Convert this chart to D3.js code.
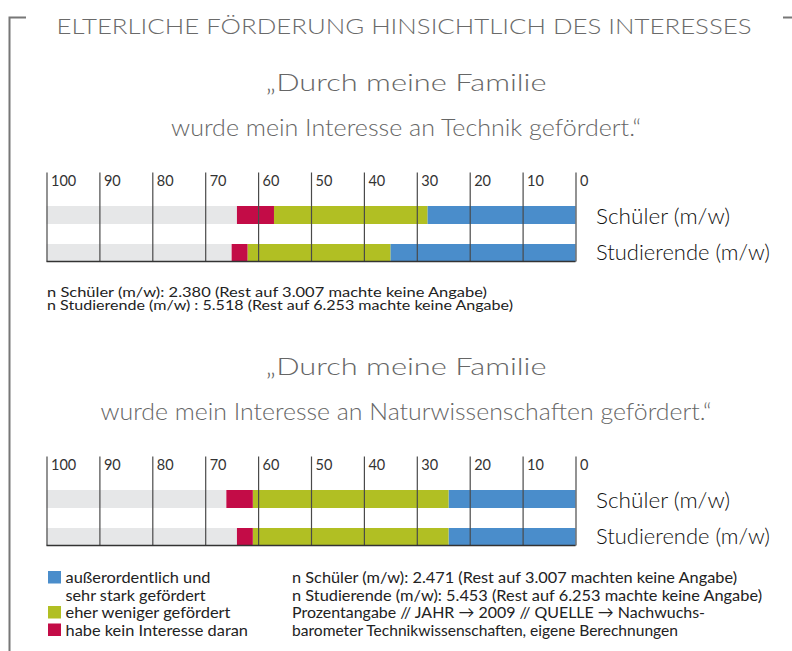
<!DOCTYPE html>
<html>
<head>
<meta charset="utf-8">
<script src="https://cdn.jsdelivr.net/npm/d3@7"></script>
<style>
  body { margin: 0; background: #fff; }
  svg { display: block; }
  text { font-family: Lato, "Open Sans", sans-serif; }
</style>
</head>
<body>
<svg id="chart" width="792" height="651"></svg>
<script>
// categories and values (percent)
const groups = ["Schüler (m/w)", "Studierende (m/w)"];
const segments = ["stark", "weniger", "kein"];
const tickValues = [100, 90, 80, 70, 60, 50, 40, 30, 20, 10, 0];

const technikStark = [28, 35];
const technikWeniger = [29, 27];
const technikKein = [7, 3];

const naturStark = [24, 24];
const naturWeniger = [37, 37];
const naturKein = [5, 3];

const legendLabels = [
  ["außerordentlich und", "sehr stark gefördert"],
  ["eher weniger gefördert"],
  ["habe kein Interesse daran"]
];

const colors = { stark: "#4a8dcb", weniger: "#b1bf23", kein: "#c30c47" };

const svg = d3.select("#chart");
const x = d3.scaleLinear().domain([100, 0]).range([46.5, 575.5]);

// frame corners
svg.append("path").attr("d", "M26,17.5 H9.5 V651").attr("fill", "none").attr("stroke", "#777").attr("stroke-width", 2);
svg.append("path").attr("d", "M783,17.5 H792").attr("fill", "none").attr("stroke", "#777").attr("stroke-width", 2);

svg.append("text")
  .attr("x", 56.5).attr("y", 33.5)
  .attr("textLength", 695).attr("lengthAdjust", "spacingAndGlyphs")
  .attr("font-size", 22).attr("font-weight", 300).attr("fill", "#6a6a6a")
  .text("ELTERLICHE FÖRDERUNG HINSICHTLICH DES INTERESSES");

function drawPanel(top, stark, weniger, kein, subtitle, subWidths) {
  const g = svg.append("g");
  const bottom = top + 89;

  // subtitle lines
  subtitle.forEach((s, i) => {
    g.append("text")
      .attr("x", 406).attr("y", top - 82 + i * 45)
      .attr("text-anchor", "middle")
      .attr("textLength", subWidths[i]).attr("lengthAdjust", "spacingAndGlyphs")
      .attr("font-size", 23).attr("font-weight", 300).attr("fill", "#666")
      .text(s);
  });

  const y = d3.scaleBand().domain(groups).range([top + 33.5, top + 89.5]).paddingInner(20 / 38);

  const rows = groups.map((grp, i) => ({ group: grp, stark: stark[i], weniger: weniger[i], kein: kein[i] }));
  const stacked = d3.stack().keys(segments)(rows);

  // grey remainder up to 100
  g.selectAll(".bg").data(rows).enter().append("rect")
    .attr("x", x(100))
    .attr("y", d => y(d.group))
    .attr("width", d => x(d.stark + d.weniger + d.kein) - x(100))
    .attr("height", y.bandwidth())
    .attr("fill", "#e6e7e8");

  g.selectAll(".serie").data(stacked).enter().append("g")
    .attr("fill", d => colors[d.key])
    .selectAll("rect").data(d => d).enter().append("rect")
    .attr("x", d => x(d[1]))
    .attr("y", d => y(d.data.group))
    .attr("width", d => x(d[0]) - x(d[1]))
    .attr("height", y.bandwidth());

  // grid lines + tick labels
  const axis = g.append("g")
    .attr("transform", `translate(0,${top})`)
    .call(d3.axisBottom(x).tickValues(tickValues).tickSize(bottom - top).tickFormat(d3.format("d")));
  axis.select(".domain").remove();
  axis.selectAll(".tick line").attr("stroke", "#4a4a4a").attr("stroke-width", 1.2);
  axis.selectAll(".tick text")
    .attr("x", 4).attr("y", 13.5).attr("dy", 0)
    .attr("text-anchor", "start")
    .attr("font-size", 14.5).attr("fill", "#333")
    .style("font-family", "Lato, 'Open Sans', sans-serif");

  g.append("line")
    .attr("x1", x(100)).attr("x2", x(0))
    .attr("y1", bottom).attr("y2", bottom)
    .attr("stroke", "#333").attr("stroke-width", 1.5);

  const labelWidths = [134, 174];
  g.selectAll(".rowlabel").data(groups).enter().append("text")
    .attr("x", 596)
    .attr("y", (d, i) => y(d) + y.bandwidth() - 0.5 - i * 1.5)
    .attr("textLength", (d, i) => labelWidths[i]).attr("lengthAdjust", "spacingAndGlyphs")
    .attr("font-size", 22).attr("font-weight", 300).attr("fill", "#111")
    .text(d => d);
}

drawPanel(172.5, technikStark, technikWeniger, technikKein,
  ["„Durch meine Familie", "wurde mein Interesse an Technik gefördert.“"], [281, 470]);
drawPanel(456.5, naturStark, naturWeniger, naturKein,
  ["„Durch meine Familie", "wurde mein Interesse an Naturwissenschaften gefördert.“"], [281, 611]);

// notes under first panel
const notes1 = [
  ["n Schüler (m/w): 2.380  (Rest auf 3.007 machte keine Angabe)", 440],
  ["n Studierende (m/w) : 5.518  (Rest auf 6.253 machte keine Angabe)", 466]
];
notes1.forEach((n, i) => {
  svg.append("text")
    .attr("x", 47).attr("y", 297 + i * 12.5)
    .attr("textLength", n[1]).attr("lengthAdjust", "spacingAndGlyphs")
    .attr("font-size", 13).attr("fill", "#222")
    .text(n[0]);
});

// legend
const rowY = [583, 600.5, 618, 635.5];
const legendRows = [
  { key: "stark", text: legendLabels[0][0], w: 145 },
  { key: null, text: legendLabels[0][1], w: 140 },
  { key: "weniger", text: legendLabels[1][0], w: 165 },
  { key: "kein", text: legendLabels[2][0], w: 182.5 }
];
legendRows.forEach((r, i) => {
  if (r.key) {
    svg.append("rect")
      .attr("x", 48).attr("y", rowY[i] - 12)
      .attr("width", 13).attr("height", 12.5)
      .attr("fill", colors[r.key]);
  }
  svg.append("text")
    .attr("x", 65.5).attr("y", rowY[i])
    .attr("textLength", r.w).attr("lengthAdjust", "spacingAndGlyphs")
    .attr("font-size", 16).attr("fill", "#222")
    .text(r.text);
});

const notes2 = [
  ["n Schüler (m/w): 2.471 (Rest auf 3.007 machten keine Angabe)", 445],
  ["n Studierende (m/w): 5.453 (Rest auf 6.253 machte keine Angabe)", 470],
  ["Prozentangabe // JAHR → 2009 // QUELLE → Nachwuchs-", 413],
  ["barometer Technikwissenschaften, eigene Berechnungen", 386]
];
notes2.forEach((n, i) => {
  svg.append("text")
    .attr("x", 292).attr("y", rowY[i])
    .attr("textLength", n[1]).attr("lengthAdjust", "spacingAndGlyphs")
    .attr("font-size", 16).attr("fill", "#222")
    .text(n[0]);
});
</script>
</body>
</html>
